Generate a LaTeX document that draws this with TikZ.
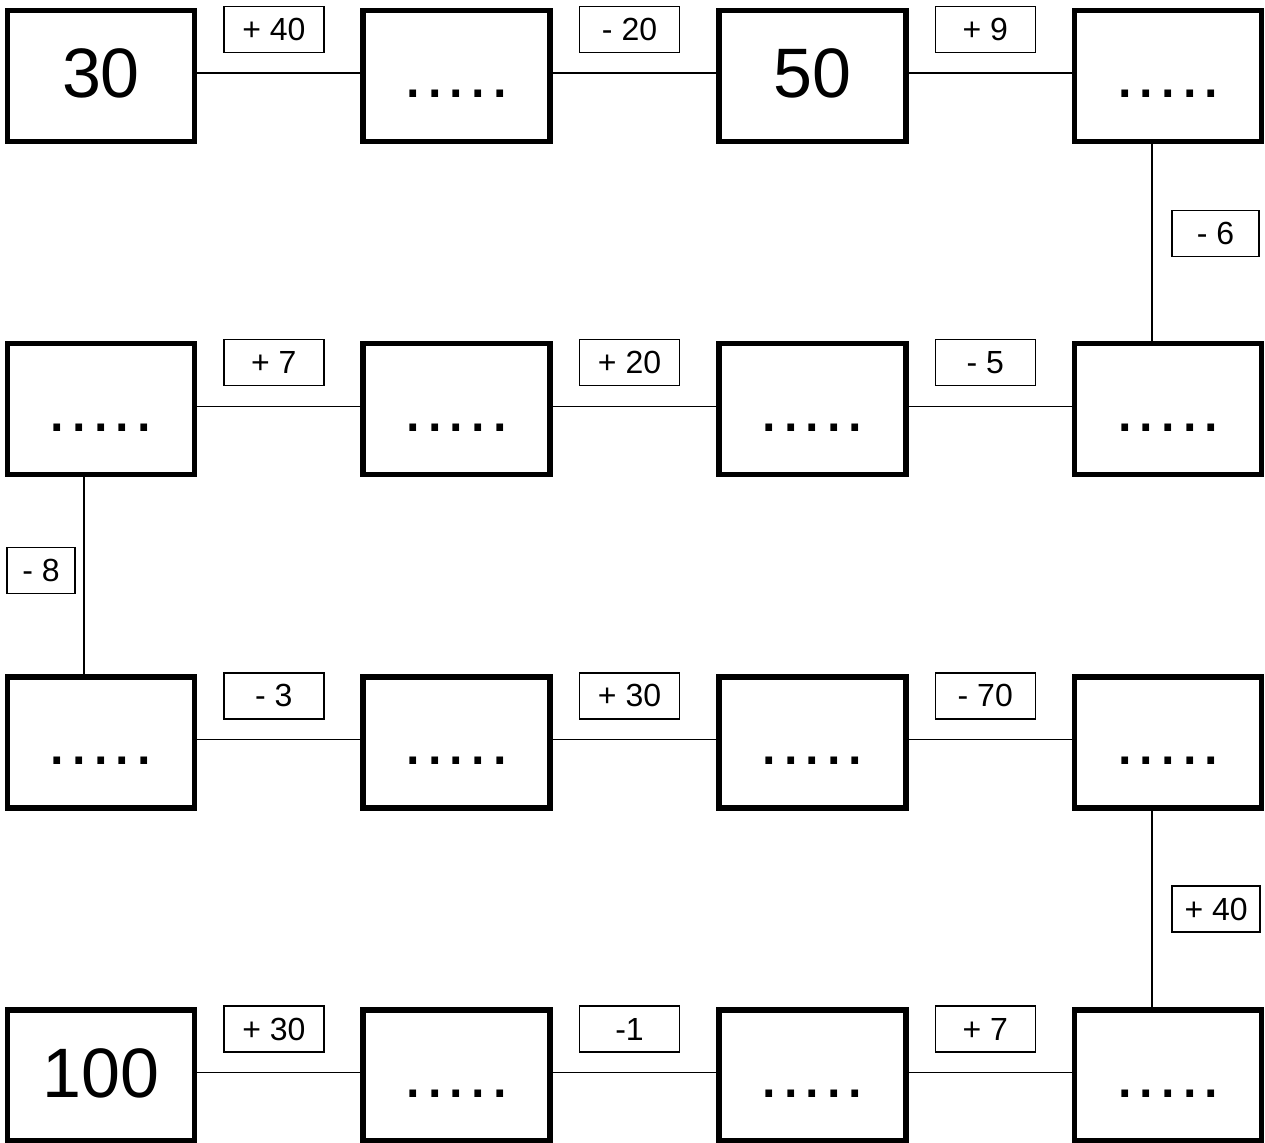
\documentclass[tikz,border=0pt]{standalone}
\usepackage{fontspec}
\setmainfont{Liberation Sans}
\usepackage{tikz}
\usetikzlibrary{positioning, calc}

% five dots for an empty box
\newcommand{\blank}{.\kern2.2pt.\kern2.2pt.\kern2.2pt.\kern2.2pt.}

\tikzset{
  numbox/.style={draw, line width=5.5pt, minimum width=187pt, minimum height=131pt,
    inner sep=0pt, text height=44pt, text depth=0pt, font=\fontsize{70}{84}\selectfont},
  oplabel/.style={draw, line width=1.3pt, minimum width=100pt, minimum height=46pt,
    inner sep=0pt, font=\fontsize{32}{38}\selectfont},
  link/.style={line width=1.3pt}
}

\begin{document}
\begin{tikzpicture}[x=1pt, y=-1pt]
  \useasboundingbox (0,0) rectangle (1265,1142);

  % Boxes (row/column)
  \foreach \r/\c/\txt in {1/1/30, 1/2/\blank, 1/3/50, 1/4/\blank,
                          2/1/\blank, 2/2/\blank, 2/3/\blank, 2/4/\blank,
                          3/1/\blank, 3/2/\blank, 3/3/\blank, 3/4/\blank,
                          4/1/100, 4/2/\blank, 4/3/\blank, 4/4/\blank}
    \node[numbox] (b\r\c) at ({101+355.7*(\c-1)}, {76+333.2*(\r-1)}) {\txt};

  % Horizontal links with operations
  \foreach \r/\a/\b/\lbl in {1/1/2/+ 40, 1/2/3/- 20, 1/3/4/+ 9,
                             2/1/2/+ 7, 2/2/3/+ 20, 2/3/4/- 5,
                             3/1/2/- 3, 3/2/3/+ 30, 3/3/4/- 70,
                             4/1/2/+ 30, 4/2/3/-1, 4/3/4/+ 7}
    \draw[link] ([yshift=3pt]b\r\a.east) -- ([yshift=3pt]b\r\b.west)
      node[midway, oplabel, xshift=-5pt, yshift=43.5pt] (op\r\a) {\lbl};

  % Vertical links
  \draw[link] ([xshift=-16pt]b14.south) -- ([xshift=-16pt]b24.north)
    node[midway, oplabel, minimum width=87pt, xshift=63.5pt, yshift=9pt] (opv1) {- 6};
  \draw[link] ([xshift=-17pt]b21.south) -- ([xshift=-17pt]b31.north)
    node[midway, oplabel, minimum width=68pt, xshift=-43pt, yshift=5pt] (opv2) {- 8};
  \draw[link] ([xshift=-16pt]b34.south) -- ([xshift=-16pt]b44.north)
    node[midway, oplabel, minimum width=88pt, xshift=64pt] (opv3) {+ 40};
\end{tikzpicture}
\end{document}
